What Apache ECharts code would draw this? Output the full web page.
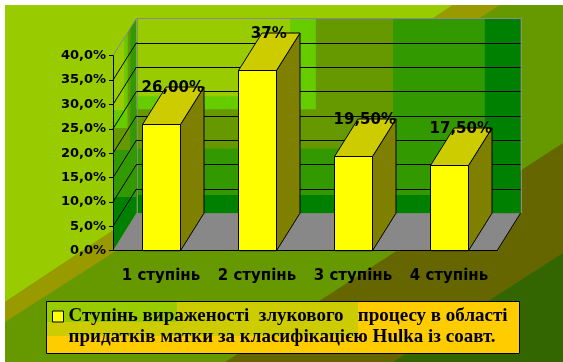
<!DOCTYPE html>
<html><head><meta charset="utf-8">
<script src="https://cdn.jsdelivr.net/npm/echarts@6/dist/echarts.min.js"></script>
<style>html,body{margin:0;padding:0;background:#fff}#c{width:563px;height:362px}</style>
</head><body><div id="c"></div>
<script>
// ---- data ----
const categories = ['1 ступінь', '2 ступінь', '3 ступінь', '4 ступінь'];
const values = [0.26, 0.37, 0.195, 0.175];
const valueLabels = ['26,00%', '37%', '19,50%', '17,50%'];
const yTicks = [0.05, 0.10, 0.15, 0.20, 0.25, 0.30, 0.35];
const seriesName = 'Ступінь вираженості  злукового   процесу в області\nпридатків матки за класифікацією Hulka із соавт.';

// ---- 3D look ----
const DX = 23.5, DY = -37.5, BAR_RATIO = 0.4;

const chart = echarts.init(document.getElementById('c'), null, {renderer: 'canvas'});

function px(v) { return Math.round(v) + 0.5; }

function renderWalls(params, api) {
  const cs = params.coordSys;
  const gx = cs.x, gy = cs.y, gw = cs.width, gh = cs.height;
  const bx = gx + DX, by = gy + DY;
  const ch = [];
  const span = gy + gh - by;
  const o = y => (y - by) / span;
  const sideGrad = new echarts.graphic.LinearGradient(0, by, 0, gy + gh, [
    {offset: 0, color: '#99cc00'}, {offset: o(110), color: '#99cc00'},
    {offset: o(110), color: '#66cc00'}, {offset: o(128), color: '#66cc00'},
    {offset: o(128), color: '#669900'}, {offset: o(150), color: '#669900'},
    {offset: o(150), color: '#339900'}, {offset: o(197), color: '#339900'},
    {offset: o(197), color: '#008000'}, {offset: 1, color: '#008000'}
  ], true);
  ch.push({type: 'polygon', shape: {points: [[gx, gy + gh], [bx, gy + gh + DY], [bx, by], [gx, gy]]},
    style: {fill: sideGrad}});
  const topY = x => gy + (x - gx) * DY / DX;
  const botY = x => gy + gh + (x - gx) * DY / DX;
  function strip(u0, u1, yTo, color) {
    const a = gx + u0 * DX, b = gx + u1 * DX;
    ch.push({type: 'polygon', shape: {points: [[a, topY(a)], [b, topY(b)], [b, Math.min(yTo, botY(b))], [a, Math.min(yTo, botY(a))]]},
      style: {fill: color}});
  }
  strip(0.47, 0.62, 110, '#66cc00');
  strip(0.62, 0.73, 150, '#669900');
  strip(0.73, 1.0, 197, '#339900');
  // back wall (corner gradient rendered as nested blocks)
  const bands = [[1, '#008000'], [0.907, '#339900'], [0.668, '#669900'], [0.467, '#66cc00'], [0.40, '#99cc00']];
  bands.forEach(([f, c]) => ch.push({type: 'rect', shape: {x: bx, y: by, width: gw * f, height: gh * f}, style: {fill: c}}));
  // back wall border
  ch.push({type: 'polyline', shape: {points: [[px(bx), gy + gh + DY], [px(bx), px(by)], [px(bx + gw), px(by)], [px(bx + gw), gy + gh + DY]]},
    style: {stroke: '#8a8a8a', lineWidth: 1, fill: null}});
  ch.push({type: 'line', shape: {x1: gx, y1: gy, x2: bx, y2: by}, style: {stroke: '#8a8a8a', lineWidth: 1}});
  // floor
  ch.push({type: 'polygon', shape: {points: [[gx, gy + gh], [gx + gw, gy + gh], [bx + gw, gy + gh + DY], [bx, gy + gh + DY]]},
    style: {fill: '#888888'}});
  ch.push({type: 'line', shape: {x1: gx + gw, y1: gy + gh, x2: bx + gw, y2: gy + gh + DY}, style: {stroke: '#000', lineWidth: 1}});
  // gridlines on walls at axis ticks
  yTicks.forEach(v => {
    const y = api.coord([0, v])[1];
    ch.push({type: 'line', shape: {x1: gx, y1: y, x2: bx, y2: y + DY}, style: {stroke: '#000', lineWidth: 1}});
    ch.push({type: 'line', shape: {x1: bx, y1: px(y + DY), x2: bx + gw, y2: px(y + DY)}, style: {stroke: '#000', lineWidth: 1}});
  });
  return {type: 'group', children: ch};
}

function renderBar(params, api) {
  const cat = api.value(0), v = api.value(1);
  const base = api.coord([cat, 0]);
  const top = api.coord([cat, v]);
  const w = api.size([1, 0])[0] * BAR_RATIO;
  const x0 = px(base[0] - w / 2), x1 = px(base[0] + w / 2);
  const yb = base[1], yt = px(top[1]);
  const line = {stroke: '#000', lineWidth: 1};
  return {type: 'group', children: [
    {type: 'polygon', shape: {points: [[x1, yb], [x1 + DX, yb + DY], [x1 + DX, yt + DY], [x1, yt]]}, style: Object.assign({fill: '#808000'}, line)},
    {type: 'polygon', shape: {points: [[x0, yt], [x1, yt], [x1 + DX, yt + DY], [x0 + DX, yt + DY]]}, style: Object.assign({fill: '#cccc00'}, line)},
    {type: 'rect', shape: {x: x0, y: yt, width: x1 - x0, height: yb - yt}, style: Object.assign({fill: '#ffff00'}, line)},
    {type: 'text', x: base[0] + DX / 2, y: top[1] + DY + 1.5,
      style: {text: valueLabels[params.dataIndex], fontFamily: 'DejaVu Sans', fontWeight: 'bold', fontSize: 15, fill: '#000', align: 'center', verticalAlign: 'middle'}}
  ]};
}

// background decoration (Excel-like diagonal fill)
const bg = [
  {type: 'rect', shape: {x: 0, y: 0, width: 563, height: 362}, style: {fill: '#669900'}},
  {type: 'polygon', shape: {points: [[5, 5], [453, 5], [5, 302]]}, style: {fill: '#99cc00'}},
  {type: 'polygon', shape: {points: [[453, 5], [500, 5], [5, 322], [5, 302]]}, style: {fill: '#999900'}},
  {type: 'polygon', shape: {points: [[563, 143], [563, 362], [225, 362]]}, style: {fill: '#666600'}},
  {type: 'polygon', shape: {points: [[563, 253], [563, 362], [393, 362]]}, style: {fill: '#336600'}},
  {type: 'rect', shape: {x: 0, y: 0, width: 563, height: 5}, style: {fill: '#ffffff'}},
  {type: 'rect', shape: {x: 0, y: 0, width: 5, height: 362}, style: {fill: '#ffffff'}},
  // legend box
  {type: 'rect', z: 1, shape: {x: 47, y: 302, width: 473, height: 52}, style: {fill: '#ffcc00'}},
  {type: 'rect', z: 1, shape: {x: 47, y: 302, width: 311, height: 34}, style: {fill: '#cccc00'}},
  {type: 'rect', z: 1, shape: {x: 47, y: 302, width: 130, height: 20}, style: {fill: '#99cc00'}},
  {type: 'rect', z: 1, shape: {x: 46.5, y: 301.5, width: 473, height: 52}, style: {fill: null, stroke: '#000', lineWidth: 1}}
];

chart.setOption({
  animation: false,
  graphic: {elements: bg},
  grid: {left: 113, top: 55.7, right: 66, bottom: 111.3, containLabel: false},
  legend: {
    data: [seriesName], left: 52, top: 285, padding: 0, itemWidth: 11, itemHeight: 11, icon: 'rect',
    selectedMode: false,
    formatter: name => '\n' + name,
    itemStyle: {color: '#ffff00', borderColor: '#000', borderWidth: 1},
    textStyle: {fontFamily: 'Liberation Serif', fontWeight: 'bold', fontSize: 19, lineHeight: 21, color: '#000'}
  },
  xAxis: {
    type: 'category', data: categories, z: 5,
    axisLine: {lineStyle: {color: '#000', width: 1}},
    axisTick: {length: 5, lineStyle: {color: '#000'}},
    axisLabel: {interval: 0, fontFamily: 'DejaVu Sans', fontWeight: 'bold', fontSize: 15, color: '#000', margin: 18},
    splitLine: {show: false}
  },
  yAxis: {
    type: 'value', min: 0, max: 0.4, interval: 0.05, z: 5,
    axisLine: {show: true, lineStyle: {color: '#000', width: 1}},
    axisTick: {show: true, length: 4, lineStyle: {color: '#000'}},
    axisLabel: {fontFamily: 'DejaVu Sans', fontWeight: 'bold', fontSize: 13, color: '#000', margin: 7,
      formatter: v => (v * 100).toFixed(1).replace('.', ',') + '%'},
    splitLine: {show: false}
  },
  series: [
    {type: 'custom', name: 'walls', z: 1, silent: true, renderItem: renderWalls, data: [[0, 0]], encode: {x: 0, y: 1}},
    {type: 'custom', name: seriesName, z: 3, renderItem: renderBar, itemStyle: {color: '#ffff00'},
      data: categories.map((c, i) => [i, values[i]]), encode: {x: 0, y: 1}}
  ]
});
</script></body></html>
